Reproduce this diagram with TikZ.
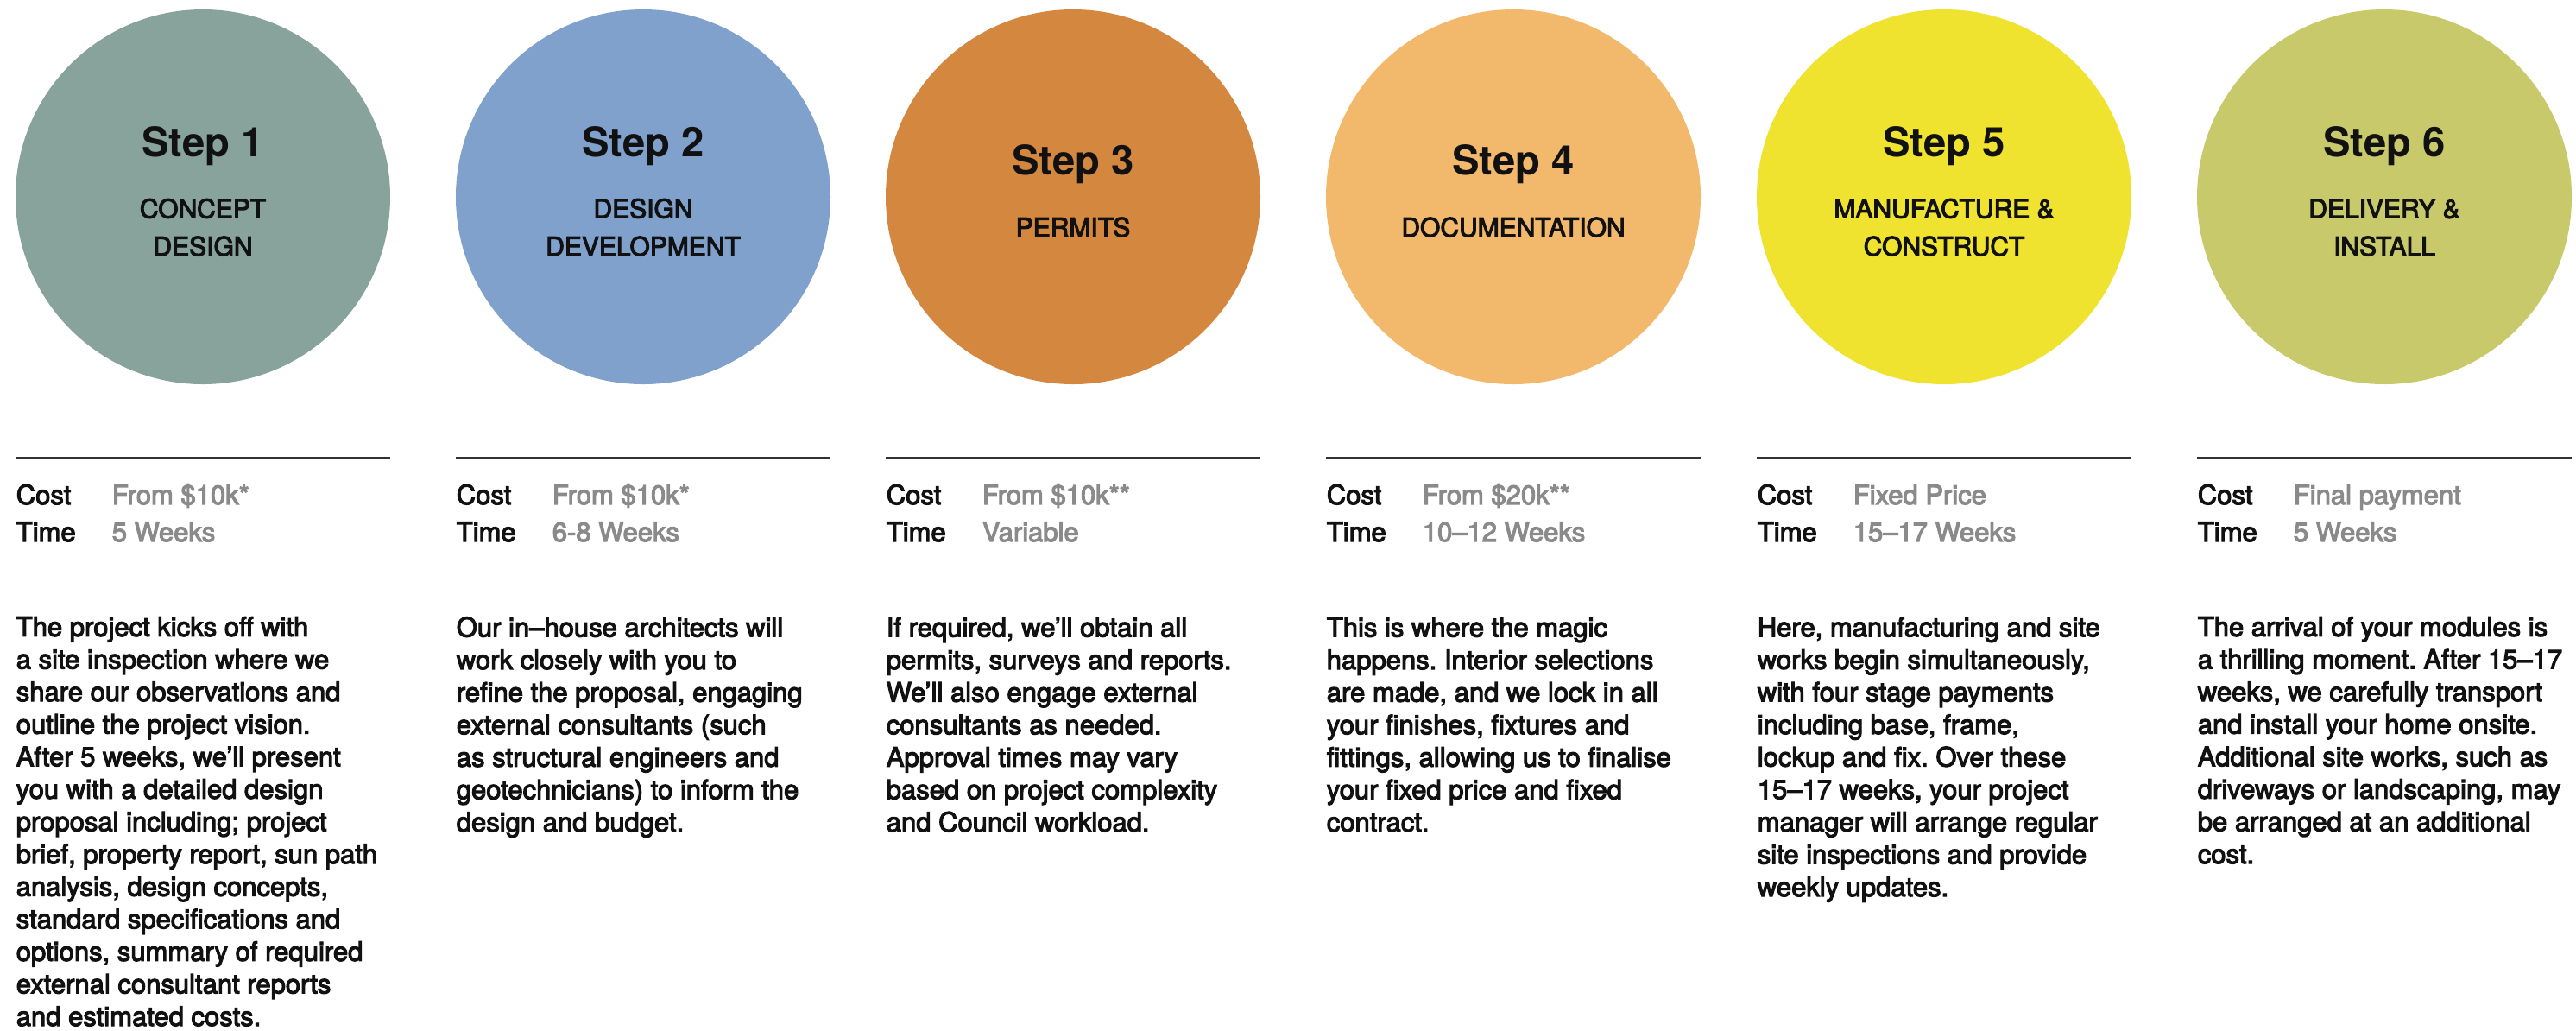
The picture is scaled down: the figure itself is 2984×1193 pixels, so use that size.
\documentclass[tikz,border=0pt]{standalone}
\usepackage{fontspec}
\setmainfont{TeX Gyre Heros}
\newfontfamily\medfont{TeX Gyre Heros}[FakeBold=3.5]
\usetikzlibrary{positioning}
\frenchspacing

\definecolor{stepone}{HTML}{87A39B}
\definecolor{steptwo}{HTML}{7FA1CC}
\definecolor{stepthree}{HTML}{D4873F}
\definecolor{stepfour}{HTML}{F2B86B}
\definecolor{stepfive}{HTML}{EFE32F}
\definecolor{stepsix}{HTML}{C8C96A}
\definecolor{valgray}{HTML}{8A8A8A}
\definecolor{ink}{HTML}{111111}

% multi-line nodes sit on the baseline of their last line
\tikzset{
  disc/.style={circle,minimum size=108.5pt,inner sep=0pt,outer sep=0pt,draw=none},
  steptitle/.style={anchor=base,inner sep=0pt,text=ink,font=\fontsize{11.8pt}{14pt}\selectfont\bfseries},
  stepsub/.style={anchor=base,inner sep=0pt,align=center,text=ink,font=\fontsize{7.5pt}{10.9pt}\selectfont\medfont},
  lbl/.style={anchor=base west,inner sep=0pt,text=ink,font=\fontsize{7.75pt}{9.4pt}\selectfont\medfont},
  val/.style={lbl,text=valgray},
  body/.style={lbl,align=left},
  rule/.style={draw=black!80,line width=0.35pt}
}

\begin{document}
\begin{tikzpicture}[x=0.25pt,y=-0.25pt]
  \useasboundingbox (0,0) rectangle (2984,1193);

  % step 1
  \node[disc,fill=stepone] (disc1) at (235,228) {};
  \path (disc1.center)
    +(0,-47) node[steptitle] (title1) {Step 1}
    +(0,68) node[stepsub] (sub1) {CONCEPT\\DESIGN};
  \draw[rule] (disc1.west) ++(0,302) -- ++(434,0);
  \path (disc1.west)
    +(0,356) node[lbl] (cost1) {Cost}
    +(111,356) node[val] (costv1) {From \$10k*}
    +(0,399) node[lbl] (time1) {Time}
    +(111,399) node[val] (timev1) {5 Weeks}
    +(0,960) node[body] (body1) {The project kicks off with\\a site inspection where we\\share our observations and\\outline the project vision.\\After 5 weeks, we’ll present\\you with a detailed design\\proposal including; project\\brief, property report, sun path\\analysis, design concepts,\\standard specifications and\\options, summary of required\\external consultant reports\\and estimated costs.};

  % step 2
  \node[disc,fill=steptwo] (disc2) at (745,228) {};
  \path (disc2.center)
    +(0,-47) node[steptitle] (title2) {Step 2}
    +(0,68) node[stepsub] (sub2) {DESIGN\\DEVELOPMENT};
  \draw[rule] (disc2.west) ++(0,302) -- ++(434,0);
  \path (disc2.west)
    +(0,356) node[lbl] (cost2) {Cost}
    +(111,356) node[val] (costv2) {From \$10k*}
    +(0,399) node[lbl] (time2) {Time}
    +(111,399) node[val] (timev2) {6-8 Weeks}
    +(0,735) node[body] (body2) {Our in–house architects will\\work closely with you to\\refine the proposal, engaging\\external consultants (such\\as structural engineers and\\geotechnicians) to inform the\\design and budget.};

  % step 3
  \node[disc,fill=stepthree] (disc3) at (1243,228) {};
  \path (disc3.center)
    +(0,-26) node[steptitle] (title3) {Step 3}
    +(0,46) node[stepsub] (sub3) {PERMITS};
  \draw[rule] (disc3.west) ++(0,302) -- ++(434,0);
  \path (disc3.west)
    +(0,356) node[lbl] (cost3) {Cost}
    +(111,356) node[val] (costv3) {From \$10k**}
    +(0,399) node[lbl] (time3) {Time}
    +(111,399) node[val] (timev3) {Variable}
    +(0,735) node[body] (body3) {If required, we’ll obtain all\\permits, surveys and reports.\\We’ll also engage external\\consultants as needed.\\Approval times may vary\\based on project complexity\\and Council workload.};

  % step 4
  \node[disc,fill=stepfour] (disc4) at (1753,228) {};
  \path (disc4.center)
    +(0,-26) node[steptitle] (title4) {Step 4}
    +(0,46) node[stepsub] (sub4) {DOCUMENTATION};
  \draw[rule] (disc4.west) ++(0,302) -- ++(434,0);
  \path (disc4.west)
    +(0,356) node[lbl] (cost4) {Cost}
    +(111,356) node[val] (costv4) {From \$20k**}
    +(0,399) node[lbl] (time4) {Time}
    +(111,399) node[val] (timev4) {10–12 Weeks}
    +(0,735) node[body] (body4) {This is where the magic\\happens. Interior selections\\are made, and we lock in all\\your finishes, fixtures and\\fittings, allowing us to finalise\\your fixed price and fixed\\contract.};

  % step 5
  \node[disc,fill=stepfive] (disc5) at (2252,228) {};
  \path (disc5.center)
    +(0,-47) node[steptitle] (title5) {Step 5}
    +(0,68) node[stepsub] (sub5) {MANUFACTURE \&\\CONSTRUCT};
  \draw[rule] (disc5.west) ++(0,302) -- ++(434,0);
  \path (disc5.west)
    +(0,356) node[lbl] (cost5) {Cost}
    +(111,356) node[val] (costv5) {Fixed Price}
    +(0,399) node[lbl] (time5) {Time}
    +(111,399) node[val] (timev5) {15–17 Weeks}
    +(0,810) node[body] (body5) {Here, manufacturing and site\\works begin simultaneously,\\with four stage payments\\including base, frame,\\lockup and fix. Over these\\15–17 weeks, your project\\manager will arrange regular\\site inspections and provide\\weekly updates.};

  % step 6
  \node[disc,fill=stepsix] (disc6) at (2762,228) {};
  \path (disc6.center)
    +(0,-47) node[steptitle] (title6) {Step 6}
    +(0,68) node[stepsub] (sub6) {DELIVERY \&\\INSTALL};
  \draw[rule] (disc6.west) ++(0,302) -- ++(434,0);
  \path (disc6.west)
    +(0,356) node[lbl] (cost6) {Cost}
    +(111,356) node[val] (costv6) {Final payment}
    +(0,399) node[lbl] (time6) {Time}
    +(111,399) node[val] (timev6) {5 Weeks}
    +(0,772) node[body] (body6) {The arrival of your modules is\\a thrilling moment. After 15–17\\weeks, we carefully transport\\and install your home onsite.\\Additional site works, such as\\driveways or landscaping, may\\be arranged at an additional\\cost.};
\end{tikzpicture}
\end{document}
